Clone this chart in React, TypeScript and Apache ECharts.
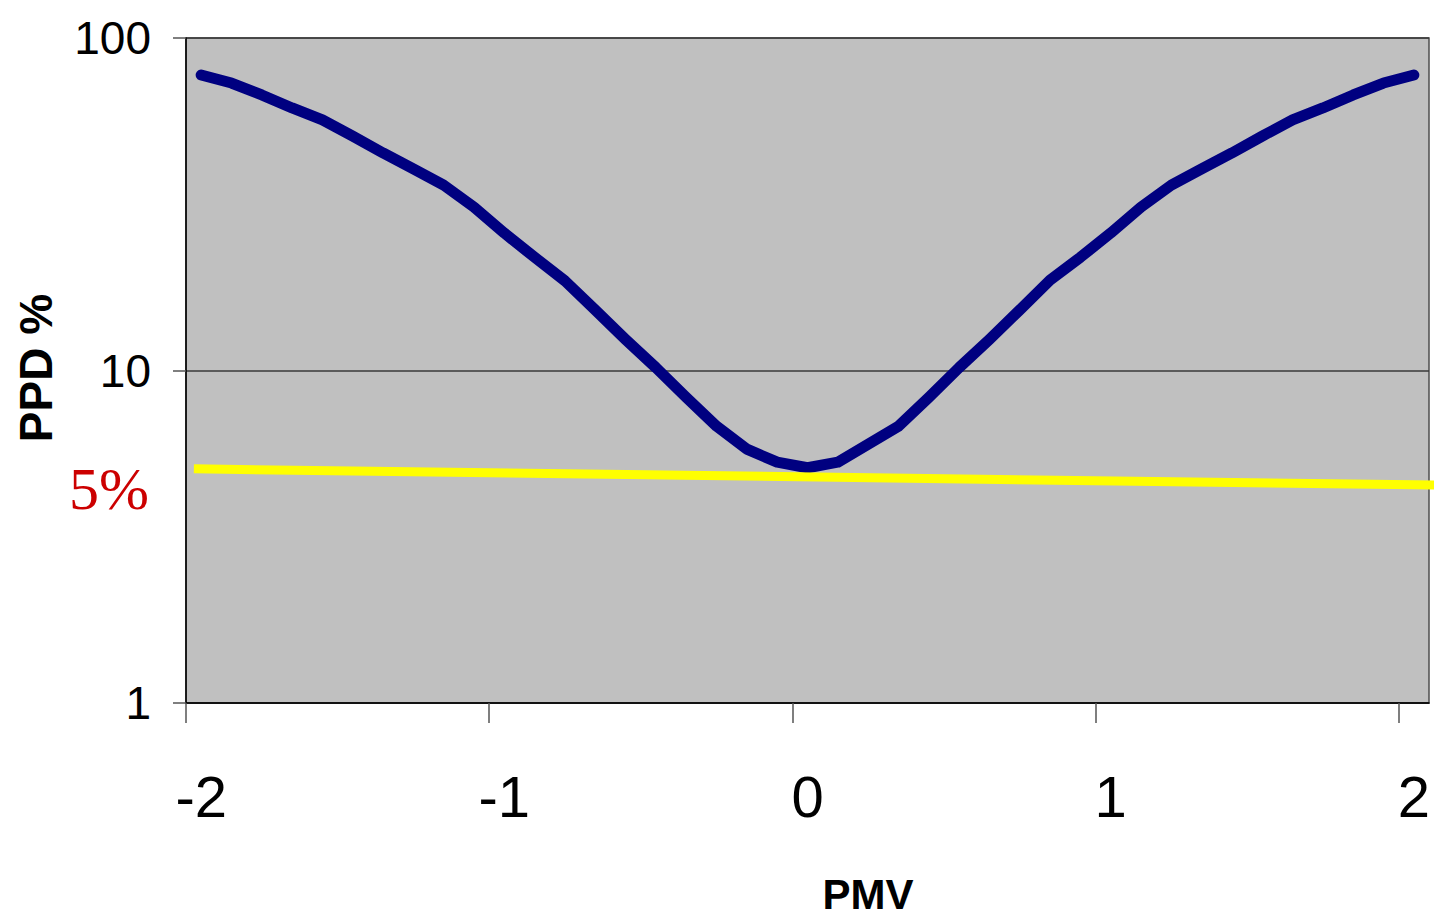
import React, { useEffect, useRef } from "react";
import * as echarts from "echarts";

// PMV categories (Excel line chart, one point every 0.1)
const PMV = [
  -2.0, -1.9, -1.8, -1.7, -1.6, -1.5, -1.4, -1.3, -1.2, -1.1,
  -1.0, -0.9, -0.8, -0.7, -0.6, -0.5, -0.4, -0.3, -0.2, -0.1,
  0.0, 0.1, 0.2, 0.3, 0.4, 0.5, 0.6, 0.7, 0.8, 0.9,
  1.0, 1.1, 1.2, 1.3, 1.4, 1.5, 1.6, 1.7, 1.8, 1.9, 2.0,
];
// PPD %
const PPD = [
  77.4, 73.2, 67.4, 61.6, 56.7, 50.7, 45.1, 40.4, 36.1, 31.0,
  25.9, 21.9, 18.6, 15.2, 12.4, 10.2, 8.3, 6.8, 5.8, 5.3,
  5.1, 5.3, 6.0, 6.8, 8.3, 10.2, 12.4, 15.2, 18.7, 21.9,
  25.9, 31.0, 36.1, 40.4, 45.1, 50.7, 56.7, 61.6, 67.4, 73.2, 77.4,
];
// the hand-drawn 5% limit line
const LIMIT_PMV = [-2.024, 2.083];
const LIMIT_PPD = [5.06, 4.52];

const X_MIN = -2.05;
const X_MAX = 2.05;
const X_LABELS = [-2, -1, 0, 1, 2];
const X_TICKS = [-2.05, -1.05, -0.05, 0.95, 1.95]; // category boundaries
const Y_MIN = 1;
const Y_MAX = 100;

const SANS = "'Liberation Sans', Arial, sans-serif";
const SERIF = "'Liberation Serif', 'Times New Roman', serif";

export default function App() {
  const ref = useRef<HTMLDivElement>(null);

  useEffect(() => {
    document.body.style.margin = "0";
    document.body.style.overflow = "hidden";
    const chart = echarts.init(ref.current!, null, { renderer: "svg" });
    chart.setOption({
      animation: false,
      backgroundColor: "#ffffff",
      grid: {
        left: 186,
        right: 10,
        top: 38,
        bottom: 218,
        show: true,
        backgroundColor: "#c0c0c0",
        borderColor: "#4d4d4d",
        borderWidth: 1.5,
        containLabel: false,
        outerBoundsMode: "none",
      },
      xAxis: {
        type: "value",
        min: X_MIN,
        max: X_MAX,
        axisLine: { show: true, onZero: false, lineStyle: { color: "#000", width: 1.5 } },
        axisTick: {
          show: true,
          length: 20,
          customValues: X_TICKS,
          lineStyle: { color: "#555", width: 1.5 },
        },
        axisLabel: {
          customValues: X_LABELS,
          fontSize: 58,
          fontFamily: SANS,
          color: "#000",
          margin: 64,
        },
        splitLine: { show: false },
      },
      yAxis: {
        type: "log",
        logBase: 10,
        min: Y_MIN,
        max: Y_MAX,
        axisLine: { show: true, onZero: false, lineStyle: { color: "#000", width: 1.5 } },
        axisTick: { show: true, length: 13, lineStyle: { color: "#555", width: 1.5 } },
        axisLabel: {
          fontSize: 46,
          fontFamily: SANS,
          color: "#000",
          margin: 35,
        },
        splitLine: { show: true, lineStyle: { color: "#3a3a3a", width: 1.5 } },
        minorTick: { show: false },
      },
      series: [
        {
          name: "PPD",
          type: "line",
          data: PMV.map((x, i) => [x, PPD[i]]),
          symbol: "none",
          lineStyle: { color: "#000080", width: 11, cap: "round", join: "round" },
          z: 2,
        },
        {
          name: "5%",
          type: "line",
          data: LIMIT_PMV.map((x, i) => [x, LIMIT_PPD[i]]),
          symbol: "none",
          clip: false,
          lineStyle: { color: "#ffff00", width: 9 },
          z: 3,
        },
      ],
      graphic: [
        {
          type: "text",
          x: 36,
          y: 368,
          rotation: Math.PI / 2,
          style: {
            text: "PPD %",
            font: `bold 46px ${SANS}`,
            fill: "#000",
            align: "center",
            verticalAlign: "middle",
          },
        },
        {
          type: "text",
          x: 868,
          y: 894,
          style: {
            text: "PMV",
            font: `bold 42px ${SANS}`,
            fill: "#000",
            align: "center",
            verticalAlign: "middle",
          },
        },
        {
          type: "text",
          x: 109,
          y: 489,
          style: {
            text: "5%",
            font: `60px ${SERIF}`,
            fill: "#cc0000",
            align: "center",
            verticalAlign: "middle",
          },
        },
      ],
    });
    return () => chart.dispose();
  }, []);

  return <div ref={ref} style={{ width: 1439, height: 921 }} />;
}
